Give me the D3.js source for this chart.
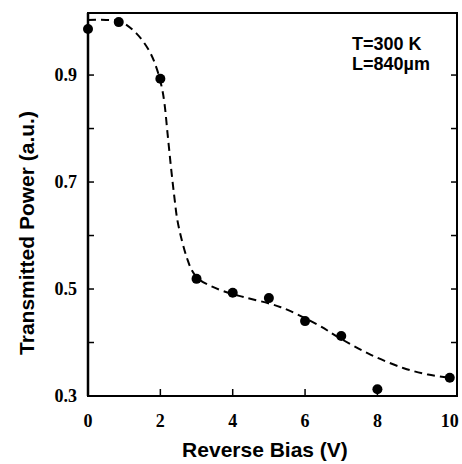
<!DOCTYPE html>
<html>
<head>
<meta charset="utf-8">
<script src="https://cdn.jsdelivr.net/npm/d3@7"></script>
<style>
  body { margin: 0; background: #fff; }
  svg { display: block; }
  .tick-label { font-family: "Liberation Serif", "Times New Roman", serif; font-weight: bold; font-size: 18px; }
  .title { font-family: "Liberation Sans", Arial, sans-serif; font-weight: bold; font-size: 21px; }
  .note { font-family: "Liberation Sans", Arial, sans-serif; font-weight: bold; font-size: 18px; }
</style>
</head>
<body>
<div id="chart"></div>
<script>
"use strict";

// measured points
const biasV = [0, 0.85, 2, 3, 4, 5, 6, 7, 8, 10];
const power = [0.986, 0.999, 0.893, 0.519, 0.493, 0.483, 0.44, 0.412, 0.3125, 0.334];

// dashed guide curve
const fitX = [0, 0.5, 0.9, 1.35, 1.71, 1.9, 2.03, 2.11, 2.2, 2.29, 2.38, 2.47, 2.61, 2.74, 2.87, 3.05, 3.45, 3.92, 4.3, 5.33, 6.35, 6.99, 7.82, 8.73, 9.4, 10];
const fitY = [1.003, 1.003, 1.0, 0.977, 0.943, 0.912, 0.88, 0.849, 0.79, 0.73, 0.676, 0.629, 0.587, 0.557, 0.535, 0.519, 0.504, 0.492, 0.485, 0.466, 0.433, 0.407, 0.377, 0.352, 0.34, 0.334];

const xTicks = [0, 2, 4, 6, 8, 10];
const yMajor = [0.3, 0.5, 0.7, 0.9];
const yMinor = [0.4, 0.6, 0.8];

const W = 462, H = 464;
const plotL = 88, plotR = 457, plotT = 13, plotB = 396;

const svg = d3.select("#chart").append("svg")
    .attr("width", W)
    .attr("height", H);

const x = d3.scaleLinear().domain([0, 10.2]).range([plotL, plotR]);
const y = d3.scaleLinear().domain([0.3, 1.016]).range([plotB, plotT]);

// frame
svg.append("rect")
    .attr("x", plotL)
    .attr("y", plotT)
    .attr("width", plotR - plotL)
    .attr("height", plotB - plotT)
    .attr("fill", "none")
    .attr("stroke", "#000")
    .attr("stroke-width", 2);
svg.append("line")
    .attr("x1", plotL).attr("x2", plotL)
    .attr("y1", plotT).attr("y2", plotB)
    .attr("stroke", "#000")
    .attr("stroke-width", 2.5);

// inward ticks
const tickG = svg.append("g").attr("stroke", "#000").attr("stroke-width", 1.5);
xTicks.filter(d => d > 0 && d < 10).forEach(d => {
    tickG.append("line").attr("x1", x(d)).attr("x2", x(d)).attr("y1", plotB).attr("y2", plotB - 7);
});
yMajor.concat(yMinor).filter(d => d > 0.3).forEach(d => {
    tickG.append("line").attr("x1", plotL).attr("x2", plotL + 6).attr("y1", y(d)).attr("y2", y(d));
    tickG.append("line").attr("x1", plotR).attr("x2", plotR - 6).attr("y1", y(d)).attr("y2", y(d));
});

// tick labels
svg.selectAll(".xl").data(xTicks).enter()
    .append("text")
    .attr("class", "tick-label")
    .attr("x", d => x(d))
    .attr("y", 427)
    .attr("text-anchor", "middle")
    .text(d => d);

svg.selectAll(".yl").data(yMajor).enter()
    .append("text")
    .attr("class", "tick-label")
    .attr("x", 77)
    .attr("y", d => y(d) + 6)
    .attr("text-anchor", "end")
    .text(d => d3.format(".1f")(d));

// axis titles
svg.append("text")
    .attr("class", "title")
    .attr("x", 265)
    .attr("y", 457)
    .attr("text-anchor", "middle")
    .text("Reverse Bias (V)");

svg.append("text")
    .attr("class", "title")
    .attr("transform", "translate(34,233) rotate(-90)")
    .attr("text-anchor", "middle")
    .text("Transmitted Power (a.u.)");

// annotation
svg.append("text")
    .attr("class", "note")
    .attr("x", 352)
    .attr("y", 50)
    .text("T=300 K");
svg.append("text")
    .attr("class", "note")
    .attr("x", 352)
    .attr("y", 70)
    .text("L=840\u00b5m");

// dashed curve
const line = d3.line()
    .x(d => x(d[0]))
    .y(d => y(d[1]))
    .curve(d3.curveCatmullRom.alpha(0.5));

svg.append("path")
    .datum(d3.zip(fitX, fitY))
    .attr("d", line)
    .attr("fill", "none")
    .attr("stroke", "#000")
    .attr("stroke-width", 2)
    .attr("stroke-dasharray", "8,5");

// points
svg.selectAll(".pt").data(d3.zip(biasV, power)).enter()
    .append("circle")
    .attr("cx", d => x(d[0]))
    .attr("cy", d => y(d[1]))
    .attr("r", 5)
    .attr("fill", "#000");
</script>
</body>
</html>
